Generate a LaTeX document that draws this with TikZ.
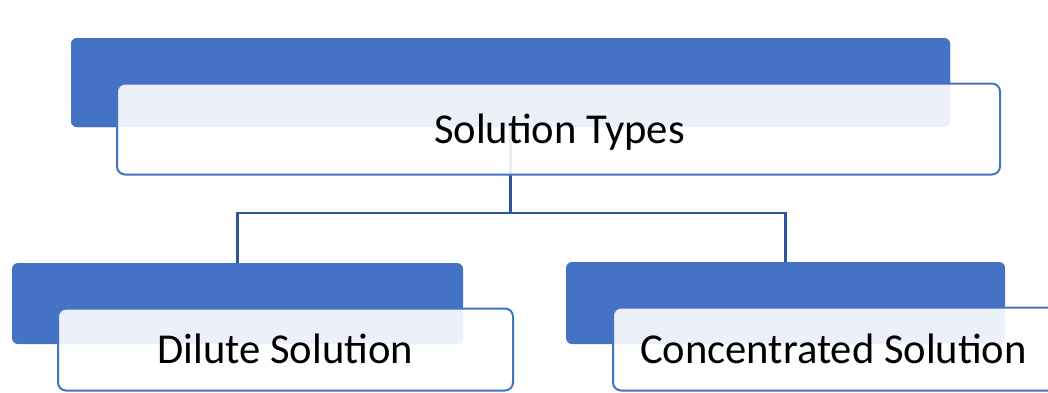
\documentclass[tikz,border=0pt]{standalone}
\usepackage{fontspec}
\setmainfont{Carlito}
\definecolor{accent}{HTML}{4472C4}
\definecolor{connc}{HTML}{2F5597}
\begin{document}
\begin{tikzpicture}[x=1pt,y=-1pt,
  bluebox/.style={draw=none,fill=accent,rounded corners=6pt,inner sep=0pt},
  whitebox/.style={draw=accent,line width=2pt,fill=white,fill opacity=0.9,draw opacity=1,rounded corners=8pt,inner sep=0pt},
  conn/.style={draw=connc,line width=2.2pt},
  lbl/.style={anchor=base,inner sep=0pt,font=\fontsize{42.6}{50}\selectfont,text=black}]
\useasboundingbox (0,0) rectangle (1048,392);
\clip (0,0) rectangle (1048,392);
\fill[white] (0,0) rectangle (1048,392);
% back plates
\node[bluebox,minimum width=879pt,minimum height=89pt] (topblue) at (510.5,82.5) {};
\node[bluebox,minimum width=451pt,minimum height=81pt] (leftblue) at (237.5,303.5) {};
\node[bluebox,minimum width=439pt,minimum height=82pt] (rightblue) at (785.5,303) {};
% connectors
\coordinate (bus) at (510.5,213);
\draw[conn] (topblue.center) -- (bus) -| (leftblue.north);
\draw[conn] (bus) -| (rightblue.north);
% redraw top plate over connector start
\node[bluebox,minimum width=879pt,minimum height=89pt] (topblue2) at (topblue.center) {};
% front boxes
\node[whitebox,minimum width=883pt,minimum height=91pt] (topwhite) at (558.5,129) {};
\node[whitebox,minimum width=455pt,minimum height=82pt] (leftwhite) at (285.5,349.5) {};
\node[whitebox,minimum width=455pt,minimum height=83pt] (rightwhite) at (840.5,349) {};
% labels
\node[lbl] (toplbl) at (559.5,143) {Solution Types};
\node[lbl] (leftlbl) at (285.5,363.5) {Dilute Solution};
\node[lbl] (rightlbl) at (833.5,363.5) {Concentrated Solution};
\end{tikzpicture}
\end{document}
